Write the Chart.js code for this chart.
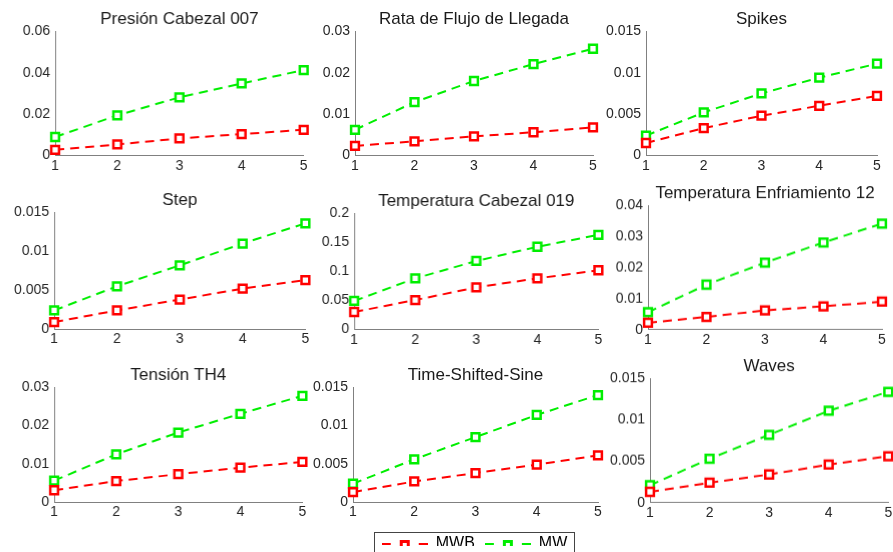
<!DOCTYPE html>
<html>
<head>
<meta charset="utf-8">
<script src="https://cdn.jsdelivr.net/npm/chart.js@4.4.1/dist/chart.umd.min.js"></script>
<style>
body { margin: 0; background: #fff; width: 893px; height: 552px; overflow: hidden; position: relative; }
.panel { position: absolute; }
#legendBox { position: absolute; left: 374px; top: 532px; width: 199px; height: 30px; border: 1px solid #444; background: #fff; overflow: hidden; }
#legendInner { position: absolute; left: -30px; top: -7px; width: 259px; height: 40px; }
</style>
</head>
<body>
<div id="legendBox"><div id="legendInner"><canvas id="legendCanvas"></canvas></div></div>
<script>
// categories (x axis) and series names
var steps = ['1', '2', '3', '4', '5'];
var seriesNames = ['MWB', 'MW'];

var titles = ['Presión Cabezal 007', 'Rata de Flujo de Llegada', 'Spikes',
	'Step', 'Temperatura Cabezal 019', 'Temperatura Enfriamiento 12',
	'Tensión TH4', 'Time-Shifted-Sine', 'Waves'];

// y axis limits / tick steps per panel
var yMaxima = [0.06, 0.03, 0.015, 0.015, 0.2, 0.04, 0.03, 0.015, 0.015];
var yStepSizes = [0.02, 0.01, 0.005, 0.005, 0.05, 0.01, 0.01, 0.005, 0.005];

// values
var presionMWB = [0.0027, 0.0053, 0.0082, 0.0103, 0.0124];
var presionMW = [0.0089, 0.0194, 0.0281, 0.0348, 0.0413];
var flujoMWB = [0.0023, 0.0034, 0.0046, 0.0056, 0.0068];
var flujoMW = [0.0062, 0.0129, 0.0180, 0.0221, 0.0258];
var spikesMWB = [0.0015, 0.0033, 0.0048, 0.0060, 0.0072];
var spikesMW = [0.0024, 0.0052, 0.0075, 0.0094, 0.0111];
var stepMWB = [0.0009, 0.0024, 0.0038, 0.0052, 0.0063];
var stepMW = [0.0024, 0.0055, 0.0082, 0.0110, 0.0136];
var tempCabezalMWB = [0.030, 0.0506, 0.0724, 0.088, 0.102];
var tempCabezalMW = [0.049, 0.088, 0.118, 0.1425, 0.163];
var tempEnfriamientoMWB = [0.0022, 0.0041, 0.0062, 0.0075, 0.0090];
var tempEnfriamientoMW = [0.0056, 0.0145, 0.0216, 0.0281, 0.0342];
var tensionMWB = [0.0031, 0.0055, 0.0073, 0.0090, 0.0105];
var tensionMW = [0.0056, 0.0125, 0.0182, 0.0231, 0.0278];
var sineMWB = [0.0013, 0.0027, 0.0038, 0.0049, 0.0061];
var sineMW = [0.0024, 0.0056, 0.0085, 0.0114, 0.0140];
var wavesMWB = [0.0013, 0.0024, 0.0034, 0.0046, 0.0056];
var wavesMW = [0.0021, 0.0053, 0.0082, 0.0111, 0.0134];

var mwbSeries = [presionMWB, flujoMWB, spikesMWB, stepMWB, tempCabezalMWB, tempEnfriamientoMWB, tensionMWB, sineMWB, wavesMWB];
var mwSeries = [presionMW, flujoMW, spikesMW, stepMW, tempCabezalMW, tempEnfriamientoMW, tensionMW, sineMW, wavesMW];

var red = '#ff0000';
var green = '#00ee00';
var fontFamily = "'Liberation Sans', Arial, sans-serif";

// plot-area boxes in page pixels: axis x, right x, top y, bottom y
var boxes = [
	[55, 302.7, 31.5, 155.5], [355, 593, 31.5, 155.5], [646, 877, 31.5, 155.5],
	[54.3, 304.7, 212.3, 329], [354.3, 597.7, 213, 329], [648.3, 882.3, 205.7, 329],
	[54.3, 301.7, 387.3, 502], [353.3, 598.3, 387.3, 502], [650, 888.3, 378.7, 502]
];

var yAxisW = 50, xAxisH = 24, padRight = 10;
var titleSize = 17, titlePadTop = 4, titlePadBottom = 2;
var titleH = titleSize * 1.2 + titlePadTop + titlePadBottom;

function fmt(v) {
	return String(+Number(v).toFixed(6));
}

function makeDataset(label, data, color) {
	return {
		label: label,
		data: data,
		borderColor: color,
		backgroundColor: color,
		borderWidth: 2,
		borderDash: [9, 6],
		pointStyle: 'rect',
		pointRadius: 5.5,
		pointBorderWidth: 2.5,
		pointBackgroundColor: '#ffffff',
		pointBorderColor: color,
		clip: false,
		tension: 0
	};
}

for (var i = 0; i < titles.length; i++) {
	var b = boxes[i];
	var div = document.createElement('div');
	div.className = 'panel';
	var w = (b[1] - b[0]) + yAxisW + padRight;
	var h = titleH + (b[3] - b[2]) + xAxisH;
	div.style.left = (b[0] - yAxisW) + 'px';
	div.style.top = (b[2] - titleH) + 'px';
	div.style.width = w + 'px';
	div.style.height = h + 'px';
	var canvas = document.createElement('canvas');
	div.appendChild(canvas);
	document.body.appendChild(div);

	new Chart(canvas, {
		type: 'line',
		data: {
			labels: steps,
			datasets: [
				makeDataset(seriesNames[0], mwbSeries[i], red),
				makeDataset(seriesNames[1], mwSeries[i], green)
			]
		},
		options: {
			responsive: true,
			maintainAspectRatio: false,
			animation: false,
			layout: { padding: { left: 0, right: padRight, top: 0, bottom: 0 } },
			plugins: {
				legend: { display: false },
				tooltip: { enabled: false },
				title: {
					display: true,
					text: titles[i],
					fullSize: false,
					color: '#1a1a1a',
					font: { family: fontFamily, size: titleSize, weight: 'normal' },
					padding: { top: titlePadTop, bottom: titlePadBottom }
				}
			},
			scales: {
				x: {
					offset: false,
					grid: { display: false, drawTicks: false },
					border: { display: true, color: '#808080', width: 1 },
					ticks: { color: '#262626', padding: 2, maxRotation: 0, font: { family: fontFamily, size: 14 } },
					afterFit: function(scale) { scale.height = xAxisH; }
				},
				y: {
					min: 0,
					max: yMaxima[i],
					grid: { display: false, drawTicks: false },
					border: { display: true, color: '#808080', width: 1 },
					ticks: {
						stepSize: yStepSizes[i],
						color: '#262626',
						padding: 5,
						font: { family: fontFamily, size: 14 },
						callback: function(v) { return fmt(v); }
					},
					afterFit: function(scale) { scale.width = yAxisW; }
				}
			}
		}
	});
}

// legend sample: dash, square marker, dash
function legendSample(color) {
	var c = document.createElement('canvas');
	c.width = 46;
	c.height = 12;
	var ctx = c.getContext('2d');
	ctx.strokeStyle = color;
	ctx.lineWidth = 2;
	ctx.beginPath();
	ctx.moveTo(0, 6); ctx.lineTo(9, 6);
	ctx.moveTo(37, 6); ctx.lineTo(46, 6);
	ctx.stroke();
	ctx.fillStyle = color;
	ctx.fillRect(18, 2, 10, 9);
	ctx.fillStyle = '#ffffff';
	ctx.fillRect(21, 5, 4, 3);
	return c;
}

new Chart(document.getElementById('legendCanvas'), {
	type: 'line',
	data: {
		labels: [],
		datasets: [
			{ label: seriesNames[0], data: [], borderColor: red, backgroundColor: red, pointStyle: legendSample(red) },
			{ label: seriesNames[1], data: [], borderColor: green, backgroundColor: green, pointStyle: legendSample(green) }
		]
	},
	options: {
		responsive: true,
		maintainAspectRatio: false,
		animation: false,
		layout: { padding: 0 },
		scales: { x: { display: false }, y: { display: false } },
		plugins: {
			tooltip: { enabled: false },
			legend: {
				display: true,
				position: 'top',
				labels: {
					usePointStyle: true,
					pointStyleWidth: 46,
					padding: 10,
					color: '#000',
					font: { family: fontFamily, size: 16 }
				}
			}
		}
	}
});
</script>
</body>
</html>
